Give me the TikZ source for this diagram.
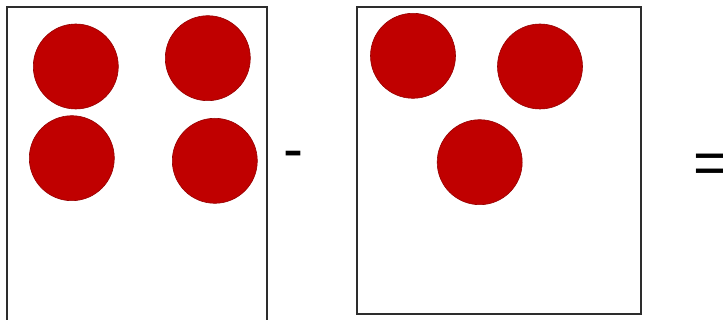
\documentclass[tikz,border=0pt]{standalone}
\usepackage{fontspec}
\setmainfont{Liberation Sans}
\definecolor{ballRed}{RGB}{192,0,0}
\definecolor{ballEdge}{RGB}{150,0,0}
\definecolor{boxGray}{RGB}{45,45,45}
\tikzset{
  ball/.style={fill=ballRed, draw=ballEdge, line width=0.6pt},
  frame/.style={draw=boxGray, line width=1.7pt},
  sign/.style={font=\fontsize{60}{60}\selectfont, inner sep=0pt}
}
\begin{document}
\begin{tikzpicture}[x=1pt,y=-1pt]
        \useasboundingbox (0,0) rectangle (723,320);
        % first box: four balls
        \draw[frame] (7.3,7.3) rectangle (266.7,330);
        \foreach \bx/\by in {75.8/66.5, 207.8/58.2, 71.8/158.2, 214.8/160.8}
          \filldraw[ball] (\bx,\by) circle (42.5);
        \node[sign, anchor=base] (minus) at (293,170) {-};
        % second box: three balls
        \draw[frame] (357.3,7.3) rectangle (641,314);
        \foreach \bx/\by in {413/55.8, 540/66.5, 479.7/162.2}
          \filldraw[ball] (\bx,\by) circle (42.5);
        \node[sign, anchor=base west] (equals) at (693,183.5) {=};
      \end{tikzpicture}
\end{document}
